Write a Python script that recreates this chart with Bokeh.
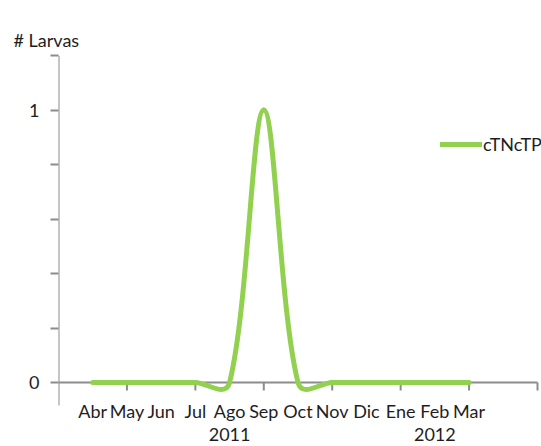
import numpy as np
from bokeh.plotting import figure
from bokeh.models import FixedTicker, Range1d, Legend, LegendItem
from bokeh.core.properties import value
from bokeh.embed import file_html
from bokeh.resources import INLINE

# Monthly larva counts, April 2011 - March 2012
months = ["Abr", "May", "Jun", "Jul", "Ago", "Sep", "Oct", "Nov", "Dic", "Ene", "Feb", "Mar"]
larvas = [0, 0, 0, 0, 0, 1, 0, 0, 0, 0, 0, 0]
series_name = "cTNcTP"
year_labels = ["2011", "2012"]
year_month = ["Ago", "Feb"]
y_ticks = [0, 0.2, 0.4, 0.6, 0.8, 1.0, 1.2]
y_labelled = [0, 1]

FONT = "Lato"
FSIZE = "18px"
GREEN = "#92D050"
AXIS = "#8c8c8c"
TEXT = "#1e1e1e"

W, H = 541, 446
LEFT, TOP = 58, 55

# category axis runs one month beyond each end; value axis 0 .. 1.2
cat_lo, cat_hi = -1, 13
val_lo, val_hi = 0, 1.2
px_per_x = 479 / (cat_hi - cat_lo)          # horizontal scale, px per month
px_per_y = 327 / (val_hi - val_lo)          # vertical scale, px per unit

x_end = cat_lo + (W - LEFT) / px_per_x
y_start = val_hi - (H - TOP) / px_per_y

p = figure(width=W, height=H, output_backend="svg", toolbar_location=None,
           x_range=Range1d(cat_lo, x_end), y_range=Range1d(y_start, val_hi),
           x_axis_location=None,
           min_border_left=LEFT, min_border_right=0,
           min_border_top=TOP, min_border_bottom=0)
p.grid.visible = False
p.outline_line_color = None
p.background_fill_color = "white"
p.border_fill_color = "white"

# --- axis title ---
p.title.text = "# Larvas"
p.title.text_font = FONT
p.title.text_font_size = FSIZE
p.title.text_font_style = "normal"
p.title.text_color = TEXT
p.title.align = "left"
p.title.offset = -45
p.title.standoff = 9

# --- value axis: ticks and labels from Bokeh, line drawn below ---
ya = p.yaxis[0]
ya.ticker = FixedTicker(ticks=y_ticks)
ya.major_label_overrides = {t: (str(int(t)) if t in y_labelled else "") for t in y_ticks}
ya.axis_line_color = None
ya.major_tick_line_color = AXIS
ya.major_tick_line_width = 2
ya.major_tick_out = 8
ya.major_tick_in = 0
ya.minor_tick_line_color = None
ya.major_label_standoff = 11
ya.major_label_text_font = FONT
ya.major_label_text_font_size = FSIZE
ya.major_label_text_color = TEXT

below = -23 / px_per_y            # value axis line reaches a little under zero
p.segment(x0=[cat_lo], y0=[below], x1=[cat_lo], y1=[val_hi],
          line_color=AXIS, line_width=2)

# --- category axis along zero ---
p.segment(x0=[cat_lo], y0=[0], x1=[cat_hi], y1=[0], line_color=AXIS, line_width=2)
tick_x = list(range(cat_lo + 2, cat_hi + 1, 2))
tick_len = 8 / px_per_y
p.segment(x0=tick_x, y0=[0] * len(tick_x), x1=tick_x, y1=[-tick_len] * len(tick_x),
          line_color=AXIS, line_width=2)

month_y = -28 / px_per_y
p.text(x=list(range(len(months))), y=[month_y] * len(months), text=months,
       text_font=value(FONT), text_font_size=FSIZE, text_color=TEXT,
       text_align="center", text_baseline="middle")

year_y = -52 / px_per_y
p.text(x=[months.index(m) for m in year_month], y=[year_y] * len(year_labels),
       text=year_labels, text_font=value(FONT), text_font_size=FSIZE,
       text_color=TEXT, text_align="center", text_baseline="middle")


# --- smoothed series as cubic Bezier segments ---
def smooth_segments(xs, ys, sx, sy, tension=1.0 / 3.0, power=0.75):
    P = np.column_stack([np.asarray(xs, float) * sx, np.asarray(ys, float) * sy])
    n = len(P)
    cin, cout = P.copy(), P.copy()
    for i in range(n):
        prev, nxt = P[max(i - 1, 0)], P[min(i + 1, n - 1)]
        T = nxt - prev
        dp = np.linalg.norm(P[i] - prev) ** power
        dn = np.linalg.norm(nxt - P[i]) ** power
        tot = dp + dn
        if tot == 0:
            continue
        cin[i] = P[i] - T * dp / tot * tension
        cout[i] = P[i] + T * dn / tot * tension
    sc = np.array([sx, sy])
    P, cin, cout = P / sc, cin / sc, cout / sc
    return dict(x0=P[:-1, 0], y0=P[:-1, 1], x1=P[1:, 0], y1=P[1:, 1],
                cx0=cout[:-1, 0], cy0=cout[:-1, 1], cx1=cin[1:, 0], cy1=cin[1:, 1])


seg = smooth_segments(range(len(months)), larvas, px_per_x, px_per_y)
r = p.bezier(x0="x0", y0="y0", x1="x1", y1="y1", cx0="cx0", cy0="cy0",
             cx1="cx1", cy1="cy1", source=seg,
             line_color=GREEN, line_width=5, line_cap="round")

# --- legend ---
legend = Legend(items=[LegendItem(label=series_name, renderers=[r])],
                location=(382, 291), glyph_width=42, glyph_height=20,
                label_standoff=1, padding=0, margin=0, spacing=0,
                border_line_color=None, background_fill_alpha=0,
                label_text_font=FONT, label_text_font_size=FSIZE,
                label_text_color=TEXT)
p.add_layout(legend)

open("out.html", "w").write(file_html(p, INLINE))
